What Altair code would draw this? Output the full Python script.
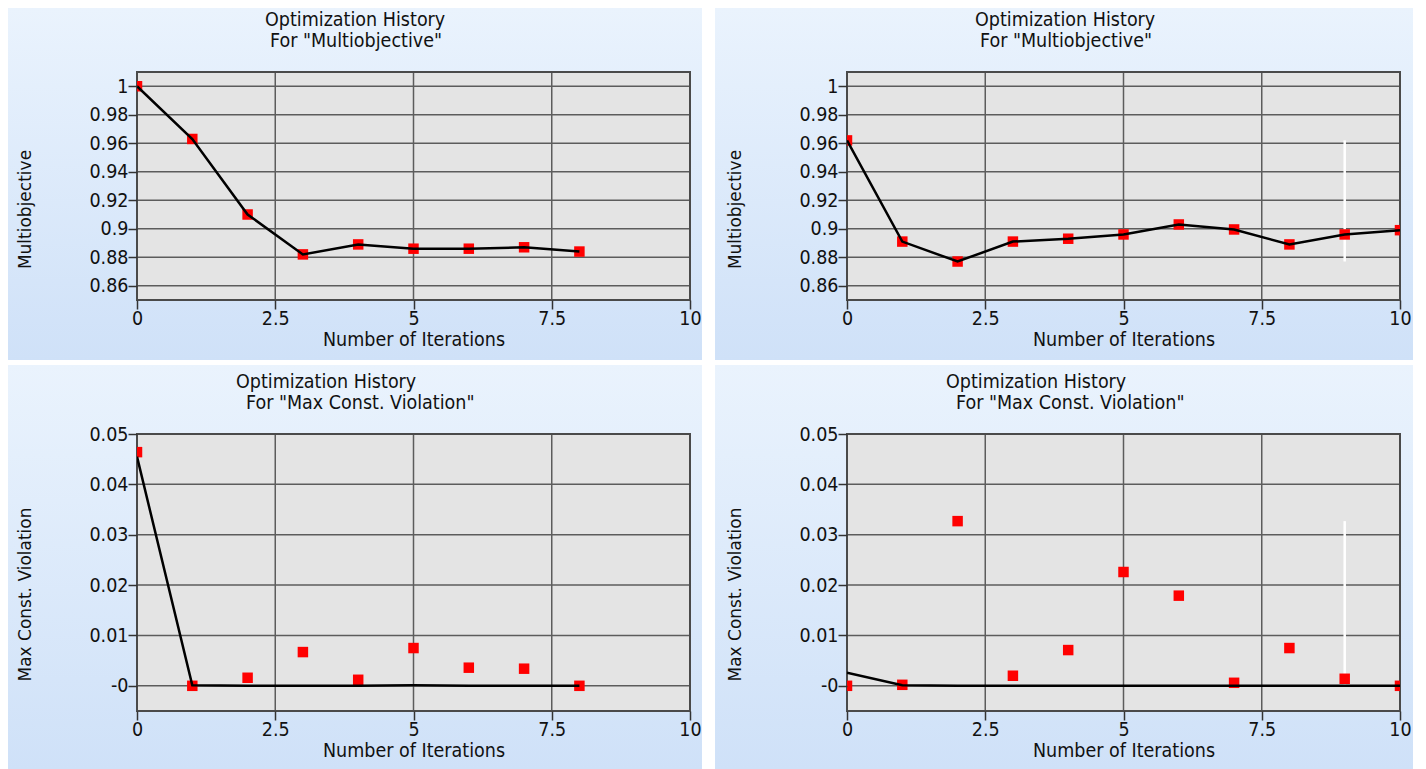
import altair as alt
import pandas as pd

# ---------------- data ----------------
iters_left = [0, 1, 2, 3, 4, 5, 6, 7, 8]
multiobj_left = [1.0, 0.963, 0.910, 0.882, 0.889, 0.886, 0.886, 0.887, 0.884]
viol_left_pts = [0.0464, 0.0, 0.0016, 0.0067, 0.0012, 0.0075, 0.0036, 0.0034, 0.0]
viol_left_line = [0.0455, 0.0001, 0.0, 0.0, 0.0, 0.0001, 0.0, 0.0, 0.0]

iters_right = [0, 1, 2, 3, 4, 5, 6, 7, 8, 9, 10]
multiobj_right = [0.962, 0.891, 0.877, 0.891, 0.893, 0.896, 0.903, 0.8995, 0.889, 0.896, 0.899]
viol_right_pts = [0.0, 0.0002, 0.0327, 0.0020, 0.0071, 0.0226, 0.0179, 0.0006, 0.0075, 0.0014, 0.0]
viol_right_line = [0.0026, 0.0001, 0.0, 0.0, 0.0, 0.0, 0.0, 0.0, 0.0, 0.0, 0.0]

x_ticks = [0, 2.5, 5, 7.5, 10]
x_grid = [2.5, 5, 7.5]
mo_ticks = [0.86, 0.88, 0.9, 0.92, 0.94, 0.96, 0.98, 1.0]
mcv_ticks = [0, 0.01, 0.02, 0.03, 0.04, 0.05]
mo_domain = [0.85, 1.01]
mcv_domain = [-0.005, 0.05]
x_domain = [0, 10]

cursor_iter = 9
mo_cursor = [0.962, 0.877]
mcv_cursor = [0.0327, 0.0]

title_line1 = "Optimization History"
title_mo = 'For "Multiobjective"'
title_mcv = 'For "Max Const. Violation"'

# ---------------- style ----------------
W = 553
FONT_C = "DejaVu Sans Condensed"
FONT = "DejaVu Sans"
GRID = "#5c5c5c"
TXT = "#111111"
LABEL_SIZE = 19.5


def panel(iters, pts, line_vals, ticks, domain, ytitle, line2, height,
          ext, title_x, ytitle_y, zero_neg=False, cursor=None):
    left, right, top, bottom = ext
    one = alt.Data(values=[{"k": 1}])
    xs = alt.Scale(domain=x_domain, nice=False, zero=False)
    ys = alt.Scale(domain=domain, nice=False, zero=False)
    df = pd.DataFrame({"Iteration": iters, "Value": pts, "Line": line_vals})

    if zero_neg:
        ylab = "datum.value == 0 ? '-0' : format(datum.value, '.2~f')"
    else:
        ylab = "format(datum.value, '.2~f')"

    xaxis = alt.Axis(values=x_ticks, title="Number of Iterations", grid=False,
                     domain=False, tickSize=9, tickWidth=1.5, tickColor="#333333",
                     labelPadding=0, labelFont=FONT_C, labelFontSize=LABEL_SIZE,
                     labelColor=TXT, labelExpr="format(datum.value, '.1~f')",
                     labelFlush=False, labelOverlap=False,
                     titleFont=FONT_C, titleFontSize=19.5, titleFontWeight="normal",
                     titleColor=TXT, titleY=39, titleBaseline="middle",
                     zindex=1)
    yaxis = alt.Axis(values=ticks, title=ytitle, grid=False, domain=False,
                     tickSize=9, tickWidth=1.5, tickColor="#333333",
                     labelPadding=0, labelFont=FONT_C, labelFontSize=LABEL_SIZE,
                     labelColor=TXT, labelExpr=ylab, labelOverlap=False,
                     titleFont=FONT, titleFontSize=17, titleFontWeight="normal",
                     titleColor=TXT, titleX=-112, titleY=ytitle_y,
                     titleAlign="center", titleBaseline="middle", titleAngle=270,
                     zindex=1)

    bg = alt.Chart(one).mark_rect(
        color=alt.Gradient(
            gradient="linear",
            stops=[alt.GradientStop(color="#eaf3fd", offset=0),
                   alt.GradientStop(color="#cfe1f8", offset=1)],
            x1=0, x2=0, y1=0, y2=1,
        )
    ).encode(x=alt.value(left), x2=alt.value(right), y=alt.value(top), y2=alt.value(bottom))

    plotbg = alt.Chart(one).mark_rect(fill="#e4e4e4").encode(
        x=alt.value(0), x2=alt.value(W), y=alt.value(0), y2=alt.value(height))

    xgrid = alt.Chart(pd.DataFrame({"g": x_grid})).mark_rule(
        color=GRID, strokeWidth=1.5).encode(
        x=alt.X("g:Q", scale=xs, axis=xaxis), y=alt.value(0), y2=alt.value(height))
    ygrid = alt.Chart(pd.DataFrame({"g": ticks})).mark_rule(
        color=GRID, strokeWidth=1.5).encode(
        y=alt.Y("g:Q", scale=ys, axis=yaxis), x=alt.value(0), x2=alt.value(W))

    border = alt.Chart(one).mark_rect(fillOpacity=0, stroke="#4a4a4a", strokeWidth=2).encode(
        x=alt.value(0), x2=alt.value(W), y=alt.value(0), y2=alt.value(height))

    points = alt.Chart(df).mark_square(size=110, color="#ff0000", opacity=1, clip=True).encode(
        x=alt.X("Iteration:Q", scale=xs, axis=xaxis),
        y=alt.Y("Value:Q", scale=ys, axis=yaxis),
    )

    line = alt.Chart(df).mark_line(color="#000000", strokeWidth=2.5, clip=True).encode(
        x=alt.X("Iteration:Q", scale=xs, axis=xaxis),
        y=alt.Y("Line:Q", scale=ys, axis=yaxis),
    )

    t1 = alt.Chart(one).mark_text(text=title_line1, align="left", baseline="middle",
                                  font=FONT_C, fontSize=19.5, color=TXT).encode(
        x=alt.value(title_x[0]), y=alt.value(-52))
    t2 = alt.Chart(one).mark_text(text=line2, align="left", baseline="middle",
                                  font=FONT_C, fontSize=19.5, color=TXT).encode(
        x=alt.value(title_x[1]), y=alt.value(-31))

    layers = [bg, plotbg, xgrid, ygrid, border]
    if cursor is not None:
        cdf = pd.DataFrame({"cx": [cursor_iter], "c1": [cursor[0]], "c2": [cursor[1]]})
        rule = alt.Chart(cdf).mark_rule(color="#ffffff", strokeWidth=2.5).encode(
            x=alt.X("cx:Q", scale=xs, axis=xaxis),
            y=alt.Y("c1:Q", scale=ys, axis=yaxis),
            y2="c2:Q",
        )
        layers.append(rule)
    layers += [points, line, t1, t2]
    return alt.layer(*layers).properties(width=W, height=height)


tl = panel(iters_left, multiobj_left, multiobj_left, mo_ticks, mo_domain, "Multiobjective",
           title_mo, 228, (-129, 565, -64, 288), (128, 133), 137)
tr = panel(iters_right, multiobj_right, multiobj_right, mo_ticks, mo_domain, "Multiobjective",
           title_mo, 228, (-132, 566, -64, 288), (128, 133), 137, cursor=mo_cursor)
bl = panel(iters_left, viol_left_pts, viol_left_line, mcv_ticks, mcv_domain,
           "Max Const. Violation", title_mcv, 277, (-129, 565, -69, 335), (99, 109), 160,
           zero_neg=True)
br = panel(iters_right, viol_right_pts, viol_right_line, mcv_ticks, mcv_domain,
           "Max Const. Violation", title_mcv, 277, (-132, 566, -69, 335), (99, 109), 160,
           zero_neg=True, cursor=mcv_cursor)

top = alt.hconcat(tl, tr, spacing=13)
bottom = alt.hconcat(bl, br, spacing=13)
chart = alt.vconcat(top, bottom, spacing=5).properties(padding=0).configure_view(strokeWidth=0)

chart.save("out.html", embed_options={"renderer": "svg", "actions": False})
